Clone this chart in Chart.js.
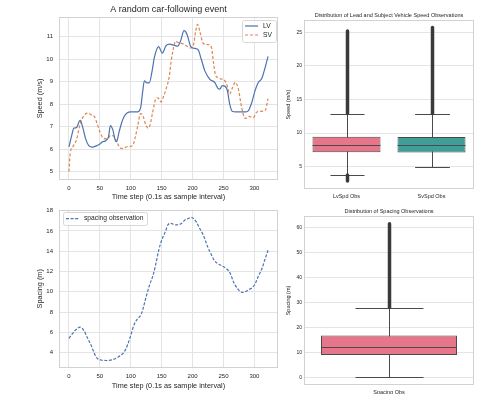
<!DOCTYPE html>
<html>
<head>
<meta charset="utf-8">
<script src="https://cdn.jsdelivr.net/npm/chart.js@4.4.0/dist/chart.umd.min.js"></script>
<style>
  html, body { margin: 0; padding: 0; background: #fff; }
  body { width: 496px; height: 394px; position: relative; overflow: hidden; }
  canvas { position: absolute; }
</style>
</head>
<body>
<canvas id="speedLine" width="290" height="201" style="left:0;top:0"></canvas>
<canvas id="spacingLine" width="290" height="194" style="left:0;top:200px"></canvas>
<canvas id="speedBox" width="216" height="201" style="left:280px;top:0"></canvas>
<canvas id="spacingBox" width="216" height="194" style="left:280px;top:200px"></canvas>
<script>
// --- car-following event (time step, value) ---
const lvSteps = [0, 4, 8, 12, 18, 22, 27, 32, 38, 45, 50, 54, 60, 64, 67, 71, 75, 77, 81, 85, 89, 94, 100, 111, 116, 119, 122, 126, 130, 134, 138, 145, 151, 157, 163, 170, 176, 181, 186, 191, 197, 204, 209, 214, 220, 228, 236, 241, 244, 248, 252, 256, 260, 264, 270, 285, 290, 296, 301, 306, 312, 317, 322];
const lvSpeed = [6.1, 6.55, 6.93, 6.95, 7.28, 7.0, 6.45, 6.15, 6.08, 6.15, 6.22, 6.32, 6.38, 6.55, 7.04, 6.85, 6.38, 6.33, 6.75, 7.15, 7.44, 7.6, 7.65, 7.65, 7.85, 8.5, 9.04, 8.95, 8.95, 9.4, 10.06, 10.56, 10.27, 10.6, 10.67, 10.62, 10.58, 10.85, 11.27, 11.1, 10.56, 10.48, 10.42, 10.0, 9.47, 9.1, 8.96, 8.7, 8.67, 8.82, 8.8, 8.62, 8.0, 7.68, 7.65, 7.65, 7.7, 8.1, 8.6, 8.95, 9.15, 9.6, 10.13];
const svSteps = [0, 2, 7, 12, 18, 24, 31, 36, 41, 46, 51, 56, 62, 67, 71, 76, 81, 86, 94, 103, 107, 111, 116, 120, 124, 128, 131, 135, 140, 144, 149, 153, 157, 162, 166, 170, 172, 178, 185, 190, 196, 201, 205, 208, 212, 217, 223, 228, 231, 234, 237, 241, 246, 250, 255, 260, 264, 269, 274, 279, 285, 291, 298, 304, 310, 317, 322];
const svSpeed = [5.0, 5.8, 6.13, 6.4, 7.1, 7.48, 7.6, 7.52, 7.45, 7.1, 6.7, 6.48, 6.45, 6.6, 6.6, 6.4, 6.12, 6.02, 6.1, 6.15, 6.5, 7.0, 7.58, 7.45, 7.1, 6.93, 7.05, 7.58, 8.2, 8.28, 8.1, 8.35, 8.67, 9.2, 10.05, 10.6, 10.8, 10.72, 10.68, 10.6, 10.5, 10.6, 11.25, 11.55, 11.2, 10.71, 10.65, 10.64, 10.45, 9.8, 9.3, 9.18, 9.12, 9.1, 8.9, 8.45, 8.7, 8.97, 8.67, 7.9, 7.36, 7.45, 7.4, 7.65, 7.68, 7.7, 8.24];
const gapSteps = [0, 6, 10, 18, 24, 30, 36, 42, 46, 52, 60, 70, 79, 84, 90, 95, 100, 106, 111, 117, 121, 125, 130, 136, 140, 145, 150, 156, 160, 165, 170, 174, 182, 188, 193, 198, 202, 206, 211, 217, 221, 225, 230, 234, 240, 248, 255, 261, 266, 272, 280, 285, 290, 296, 301, 306, 312, 317, 322];
const gapValues = [5.41, 5.9, 6.2, 6.52, 6.2, 5.45, 4.7, 3.8, 3.42, 3.28, 3.23, 3.3, 3.55, 3.75, 4.13, 4.8, 5.73, 6.85, 7.35, 7.8, 8.6, 9.56, 10.6, 11.64, 12.6, 14.04, 15.1, 15.95, 16.6, 16.75, 16.65, 16.6, 16.75, 17.1, 17.23, 17.35, 17.2, 16.9, 16.3, 15.63, 15.0, 14.35, 13.7, 13.2, 12.8, 12.55, 12.27, 11.8, 11.0, 10.36, 9.95, 10.0, 10.2, 10.4, 10.78, 11.5, 12.27, 13.2, 14.1];

const stepTicks = [0, 50, 100, 150, 200, 250, 300];
const speedTicks = [5, 6, 7, 8, 9, 10, 11];
const gapTicks = [4, 6, 8, 10, 12, 14, 16, 18];

// --- distributions (box plot summaries) ---
const speedCats = ['LvSpd Obs', 'SvSpd Obs'];
const speedQ1 = [7.15, 7.1];
const speedMed = [8.2, 8.15];
const speedQ3 = [9.45, 9.4];
const speedLo = [3.75, 5.0];
const speedHi = [12.9, 12.9];
const speedFlierMin = [2.85, null];
const speedFlierMax = [25.2, 25.75];
const speedBoxTicks = [5, 10, 15, 20, 25];

const gapCats = ['Spacing Obs'];
const gapQ1 = [8.95];
const gapMed = [12.1];
const gapQ3 = [16.7];
const gapLo = [0.05];
const gapHi = [27.9];
const gapFlierMin = [null];
const gapFlierMax = [61.4];
const gapBoxTicks = [0, 10, 20, 30, 40, 50, 60];

const FONT = "'Liberation Sans', Arial, sans-serif";
const INK = '#262626';
const GRID = '#e4e4e4';
const FRAME = '#d2d2d2';

Chart.defaults.font.family = FONT;
Chart.defaults.color = INK;
Chart.defaults.animation = false;

const frame = {
  id: 'frame',
  beforeDatasetsDraw(chart) {
    const { ctx, chartArea: a } = chart;
    ctx.save();
    ctx.strokeStyle = FRAME;
    ctx.lineWidth = 1;
    ctx.strokeRect(Math.round(a.left) + 0.5, Math.round(a.top) + 0.5,
      Math.round(a.right - a.left) - 1, Math.round(a.bottom - a.top) - 1);
    ctx.restore();
  }
};

const insetLegend = {
  id: 'insetLegend',
  afterDatasetsDraw(chart, args, o) {
    if (!o.show) return;
    const { ctx, chartArea: a } = chart;
    const sets = chart.data.datasets;
    ctx.save();
    ctx.font = o.size + 'px ' + FONT;
    const textW = Math.max(...sets.map(d => ctx.measureText(d.label).width));
    const row = 9;
    const w = 21 + textW + 4;
    const h = sets.length * row + 4;
    const x = o.align === 'left' ? a.left + 4 : a.right - 2 - w;
    const y = a.top + 2.5;
    ctx.fillStyle = 'rgba(255,255,255,0.85)';
    ctx.strokeStyle = '#d8d8d8';
    ctx.lineWidth = 1;
    ctx.beginPath();
    ctx.roundRect(Math.round(x) + 0.5, Math.round(y) + 0.5, Math.round(w), Math.round(h), 2);
    ctx.fill();
    ctx.stroke();
    sets.forEach((d, i) => {
      const cy = y + 2 + row * (i + 0.5);
      ctx.strokeStyle = d.borderColor;
      ctx.lineWidth = d.borderWidth;
      ctx.setLineDash(d.borderDash || []);
      ctx.beginPath();
      ctx.moveTo(x + 3, cy);
      ctx.lineTo(x + 16, cy);
      ctx.stroke();
      ctx.setLineDash([]);
      ctx.fillStyle = INK;
      ctx.textBaseline = 'middle';
      ctx.fillText(d.label, x + 21, cy);
    });
    ctx.restore();
  }
};

const whiskers = {
  id: 'whiskers',
  beforeDatasetsDraw(chart, args, o) {
    if (!o.lo) return;
    const { ctx, scales: { x, y } } = chart;
    const half = x.width / o.lo.length * 0.2;
    ctx.save();
    o.lo.forEach((lo, i) => {
      const cx = Math.round(x.getPixelForValue(i)) + 0.5;
      const yl = Math.round(y.getPixelForValue(lo)) + 0.5;
      const yh = Math.round(y.getPixelForValue(o.hi[i])) + 0.5;
      ctx.strokeStyle = o.color;
      ctx.lineWidth = 1;
      ctx.beginPath();
      ctx.moveTo(cx, yl); ctx.lineTo(cx, yh);
      ctx.moveTo(cx - half, yl); ctx.lineTo(cx + half, yl);
      ctx.moveTo(cx - half, yh); ctx.lineTo(cx + half, yh);
      ctx.stroke();
      ctx.strokeStyle = o.flierColor;
      ctx.lineWidth = 3.5;
      ctx.lineCap = 'round';
      ctx.beginPath();
      if (o.flierMax[i] != null) {
        ctx.moveTo(cx, y.getPixelForValue(o.hi[i]));
        ctx.lineTo(cx, y.getPixelForValue(o.flierMax[i]));
      }
      if (o.flierMin[i] != null) {
        ctx.moveTo(cx, y.getPixelForValue(lo));
        ctx.lineTo(cx, y.getPixelForValue(o.flierMin[i]));
      }
      ctx.stroke();
    });
    ctx.restore();
  },
  afterDatasetsDraw(chart, args, o) {
    if (!o.med) return;
    const { ctx, scales: { x, y } } = chart;
    const half = x.width / o.med.length * 0.4;
    ctx.save();
    ctx.strokeStyle = o.color;
    ctx.lineWidth = 1;
    o.med.forEach((m, i) => {
      const cx = x.getPixelForValue(i);
      const ym = Math.round(y.getPixelForValue(m)) + 0.5;
      ctx.beginPath();
      ctx.moveTo(cx - half, ym); ctx.lineTo(cx + half, ym);
      ctx.stroke();
    });
    ctx.restore();
  }
};

function fixedTicks(list) {
  return s => { s.ticks = list.map(v => ({ value: v })); };
}

function lineChart(id, datasets, opt) {
  return new Chart(document.getElementById(id), {
    type: 'line',
    data: { datasets },
    options: {
      responsive: false,
      devicePixelRatio: 1,
      layout: { padding: opt.padding },
      elements: { point: { radius: 0 }, line: { cubicInterpolationMode: 'monotone' } },
      plugins: {
        legend: { display: false },
        tooltip: { enabled: false },
        title: {
          display: !!opt.title, text: opt.title, fullSize: false,
          font: { size: 9, weight: 'normal' }, color: INK,
          padding: { top: 4, bottom: 2.2 }
        },
        insetLegend: { show: true, align: opt.legendAlign, size: 6.7 }
      },
      scales: {
        x: {
          type: 'linear', min: -16.1, max: 338.1,
          afterBuildTicks: fixedTicks(stepTicks),
          afterFit: s => { s.height = opt.xHeight; },
          grid: { color: GRID, drawTicks: false },
          border: { display: false },
          ticks: { font: { size: 6 }, padding: 5, maxRotation: 0 },
          title: { display: true, text: 'Time step (0.1s as sample interval)', font: { size: 7.3 }, padding: { top: 0, bottom: opt.xTitlePad } }
        },
        y: {
          min: opt.yMin, max: opt.yMax,
          afterBuildTicks: fixedTicks(opt.yTicks),
          afterFit: s => { s.width = 59; },
          grid: { color: GRID, drawTicks: false },
          border: { display: false },
          ticks: { font: { size: 6 }, padding: 6 },
          title: { display: true, text: opt.yTitle, font: { size: 7.3 }, padding: { top: 35.6, bottom: 0 } }
        }
      }
    },
    plugins: [frame, insetLegend]
  });
}

lineChart('speedLine', [
  { label: 'LV', data: lvSteps.map((t, i) => ({ x: t, y: lvSpeed[i] })), borderColor: '#4c72b0', borderWidth: 1.2 },
  { label: 'SV', data: svSteps.map((t, i) => ({ x: t, y: svSpeed[i] })), borderColor: '#dd8452', borderWidth: 1.2, borderDash: [3, 2] }
], {
  title: 'A random car-following event', padding: { top: 0, right: 12, left: 0, bottom: 0 },
  xHeight: 21, xTitlePad: 0, yMin: 4.62, yMax: 11.88, yTicks: speedTicks, yTitle: 'Speed (m/s)', legendAlign: 'right'
});

lineChart('spacingLine', [
  { label: 'spacing observation', data: gapSteps.map((t, i) => ({ x: t, y: gapValues[i] })), borderColor: '#4c72b0', borderWidth: 1.2, borderDash: [3, 1.6] }
], {
  title: '', padding: { top: 7, right: 12, left: 0, bottom: 0 },
  xHeight: 26, xTitlePad: 3.6, yMin: 2.49, yMax: 18.11, yTicks: gapTicks, yTitle: 'Spacing (m)', legendAlign: 'left'
});

function boxChart(id, cats, q1, q3, stats, opt) {
  return new Chart(document.getElementById(id), {
    type: 'bar',
    data: {
      labels: cats,
      datasets: [{
        data: q1.map((q, i) => [q, q3[i]]),
        backgroundColor: opt.colors,
        borderColor: '#4a4a4a',
        borderWidth: 1,
        borderSkipped: false,
        barPercentage: 0.8,
        categoryPercentage: 1
      }]
    },
    options: {
      responsive: false,
      devicePixelRatio: 1,
      layout: { padding: { top: 0, right: 22, left: 0, bottom: 0 } },
      plugins: {
        legend: { display: false },
        tooltip: { enabled: false },
        title: {
          display: true, text: opt.title, fullSize: false,
          font: { size: 5.5, weight: 'normal' }, color: INK,
          padding: opt.titlePad
        },
        whiskers: Object.assign({ color: '#4a4a4a', flierColor: '#3a3a3a' }, stats)
      },
      scales: {
        x: {
          afterFit: s => { s.height = opt.xHeight; },
          grid: { display: false, drawTicks: false },
          border: { display: false },
          ticks: { font: { size: 5.5 }, padding: 4.5, maxRotation: 0 }
        },
        y: {
          min: opt.yMin, max: opt.yMax,
          afterBuildTicks: fixedTicks(opt.yTicks),
          afterFit: s => { s.width = 24; },
          grid: { color: GRID, drawTicks: false },
          border: { display: false },
          ticks: { font: { size: 5 }, padding: 2 },
          title: { display: true, text: opt.yTitle, font: { size: 5.5 }, padding: { top: 5, bottom: 0 } }
        }
      }
    },
    plugins: [frame, whiskers]
  });
}

boxChart('speedBox', speedCats, speedQ1, speedQ3,
  { lo: speedLo, hi: speedHi, med: speedMed, flierMin: speedFlierMin, flierMax: speedFlierMax }, {
  title: 'Distribution of Lead and Subject Vehicle Speed Observations', titlePad: { top: 12, bottom: 1.5 },
  colors: ['#e8768a', '#3f9e97'], xHeight: 12, yMin: 1.66, yMax: 26.84, yTicks: speedBoxTicks, yTitle: 'Speed (m/s)'
});

boxChart('spacingBox', gapCats, gapQ1, gapQ3,
  { lo: gapLo, hi: gapHi, med: gapMed, flierMin: gapFlierMin, flierMax: gapFlierMax }, {
  title: 'Distribution of Spacing Observations', titlePad: { top: 7.7, bottom: 1.7 },
  colors: ['#e8768a'], xHeight: 9, yMin: -3.07, yMax: 64.5, yTicks: gapBoxTicks, yTitle: 'Spacing (m)'
});
</script>
</body>
</html>
